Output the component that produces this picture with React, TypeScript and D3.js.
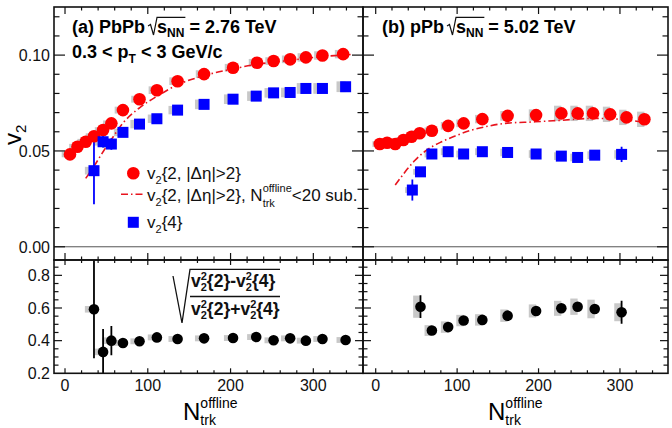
import * as d3 from 'd3'
import { useEffect, useRef } from 'react'

// PbPb 2.76 TeV
const pbX2 = [6, 15, 25, 35, 46, 56, 70, 90, 111, 136, 168, 203, 232, 252, 272, 291, 311, 336]
const pbV22 = [0.0482, 0.0522, 0.0548, 0.0577, 0.0609, 0.0644, 0.0713, 0.077, 0.0817, 0.0864, 0.0901, 0.0934, 0.096, 0.0969, 0.0978, 0.0988, 0.0998, 0.1005]
const pbV22Sys = [0.0015, 0.0015, 0.0015, 0.0015, 0.0015, 0.0015, 0.0018, 0.0018, 0.002, 0.002, 0.002, 0.002, 0.002, 0.002, 0.002, 0.0022, 0.0022, 0.0022]
const pbX4 = [35, 46, 56, 70, 90, 111, 136, 168, 203, 231, 252, 272, 291, 311, 339]
const pbV24 = [0.0397, 0.0548, 0.0536, 0.0597, 0.064, 0.0668, 0.0713, 0.0743, 0.077, 0.0786, 0.0803, 0.0805, 0.0826, 0.0826, 0.0835]
const pbV24Err = [0.0175, 0.003, 0.003, 0, 0, 0, 0, 0, 0, 0, 0, 0, 0, 0, 0]
const pbV24Sys = [0.002, 0.002, 0.002, 0.002, 0.0022, 0.0022, 0.0022, 0.0025, 0.0025, 0.0025, 0.0025, 0.0025, 0.0028, 0.0028, 0.0028]
const pbSubX = [25, 35, 46, 56, 70, 90, 111, 136, 168, 203, 232, 252, 272, 291, 311, 336, 345]
const pbSub = [0.0357, 0.042, 0.0496, 0.056, 0.0645, 0.0725, 0.0785, 0.0845, 0.0893, 0.0928, 0.0952, 0.0963, 0.0973, 0.0983, 0.0993, 0.1, 0.1003]
const pbRatio = [0.592, 0.331, 0.4, 0.386, 0.396, 0.42, 0.41, 0.414, 0.416, 0.422, 0.402, 0.414, 0.4, 0.41, 0.404]
const pbRatioErr = [0.3, 0.14, 0.09, 0, 0, 0, 0, 0, 0, 0, 0, 0, 0, 0, 0]
const pbRatioSys = [0.02, 0.02, 0.02, 0.018, 0.018, 0.018, 0.018, 0.018, 0.018, 0.018, 0.018, 0.018, 0.018, 0.018, 0.018]

// pPb 5.02 TeV
const ppX2 = [5, 14, 24, 34, 44, 54, 69, 89, 108, 131, 162, 197, 228, 248, 267, 288, 308, 330]
const ppV22 = [0.0536, 0.0543, 0.0536, 0.0557, 0.0574, 0.0592, 0.0605, 0.0631, 0.0644, 0.0666, 0.0683, 0.0687, 0.0696, 0.0696, 0.0696, 0.0691, 0.0675, 0.0665]
const ppV22Sys = [0.0015, 0.0015, 0.0015, 0.0015, 0.0015, 0.0015, 0.0018, 0.002, 0.002, 0.0022, 0.0025, 0.003, 0.004, 0.004, 0.004, 0.004, 0.004, 0.004]
const ppX4 = [45, 55, 69, 89, 108, 131, 162, 197, 228, 248, 269, 302]
const ppV24 = [0.0296, 0.0391, 0.0484, 0.0496, 0.0484, 0.0496, 0.0492, 0.0484, 0.0473, 0.0466, 0.0478, 0.0482]
const ppV24Err = [0.0055, 0.0025, 0, 0, 0, 0, 0, 0, 0, 0, 0, 0.004]
const ppV24Sys = [0.0015, 0.0015, 0.0018, 0.0018, 0.0018, 0.0018, 0.002, 0.002, 0.002, 0.002, 0.002, 0.0022]
const ppSubX = [24, 36, 48, 60, 81, 97, 118, 139, 159, 196, 228, 267, 300, 325]
const ppSub = [0.0322, 0.039, 0.045, 0.0496, 0.0548, 0.0577, 0.0609, 0.063, 0.0644, 0.0652, 0.066, 0.067, 0.0665, 0.0652]
const ppRX = [55, 69, 89, 108, 131, 162, 197, 228, 248, 269, 302]
const ppRatio = [0.608, 0.462, 0.483, 0.523, 0.527, 0.553, 0.582, 0.598, 0.608, 0.594, 0.574]
const ppRatioErr = [0.07, 0, 0, 0, 0, 0, 0, 0, 0, 0, 0.07]
const ppRatioSys = [0.068, 0.033, 0.035, 0.035, 0.035, 0.038, 0.04, 0.046, 0.05, 0.057, 0.055]

const xTickLabels = ['0', '100', '200', '300']
const yTopLabels = ['0.00', '0.05', '0.10']
const yBotLabels = ['0.2', '0.4', '0.6', '0.8']

type Run = { t: string; s: number; dy?: number; keep?: boolean }

const rich = (g: any, x: number, y: number, runs: Run[], weight = 'normal') => {
  let cx = x
  const ends: number[] = []
  runs.forEach((r) => {
    const el = g
      .append('text')
      .attr('x', cx)
      .attr('y', y + (r.dy || 0))
      .attr('font-size', r.s)
      .attr('font-weight', weight)
      .style('white-space', 'pre')
      .text(r.t)
    const w = (el.node() as SVGTextElement).getComputedTextLength()
    ends.push(cx + w)
    if (!r.keep) cx += w
  })
  return { end: cx, ends }
}

const App = () => {
  const ref = useRef<SVGSVGElement>(null)

  useEffect(() => {
    const svg = d3.select(ref.current)
    svg.selectAll('*').remove()
    svg.attr('font-family', '"Liberation Sans", Arial, sans-serif')

    const cols = [
      { x0: 54, x1: 363, dom: [-13.3, 360] },
      { x0: 363, x1: 668, dom: [-15.6, 359] },
    ]
    const xs = cols.map((c) => d3.scaleLinear().domain(c.dom).range([c.x0, c.x1]))
    const yTop = d3.scaleLinear().domain([-0.0069, 0.1251]).range([260, 7])
    const yBot = d3.scaleLinear().domain([0.2, 0.894]).range([373.3, 260])

    const xTicks = d3.range(0, 19).map((i) => i * 20)
    const yTopTicks = d3.range(0, 13).map((i) => i / 100)
    const yBotTicks = d3.range(4, 18).map((i) => i / 20)
    const grey = '#c8c8c8'

    const panel = (i: number, y: any, id: string) => {
      const x = xs[i]
      const g = svg.append('g')
      g.append('clipPath')
        .attr('id', id)
        .append('rect')
        .attr('x', x.range()[0])
        .attr('y', y.range()[1])
        .attr('width', x.range()[1] - x.range()[0])
        .attr('height', y.range()[0] - y.range()[1])
      const body = g.append('g').attr('clip-path', `url(#${id})`)
      return { x, y, g, body }
    }

    const frame = (p: any, yt: number[], isMajor: (v: number) => boolean, xl: number[], yl: number[]) => {
      const { x, y, g } = p
      const [xa, xb] = x.range()
      const [yb, ya] = y.range()
      const ax = g.append('g').attr('stroke', '#111').attr('stroke-width', 1.2)
      xTicks
        .filter((v) => x(v) > xa + 0.5 && x(v) < xb - 0.5)
        .forEach((v) => {
          const L = v % 100 === 0 ? xl[0] : xl[1]
          ax.append('line').attr('x1', x(v)).attr('x2', x(v)).attr('y1', yb).attr('y2', yb - L)
          ax.append('line').attr('x1', x(v)).attr('x2', x(v)).attr('y1', ya).attr('y2', ya + L)
        })
      yt.filter((v) => y(v) < yb - 0.5 && y(v) > ya + 0.5).forEach((v) => {
        const L = isMajor(v) ? yl[0] : yl[1]
        ax.append('line').attr('x1', xa).attr('x2', xa + L).attr('y1', y(v)).attr('y2', y(v))
        ax.append('line').attr('x1', xb).attr('x2', xb - L).attr('y1', y(v)).attr('y2', y(v))
      })
      g.append('rect')
        .attr('x', xa)
        .attr('y', ya)
        .attr('width', xb - xa)
        .attr('height', yb - ya)
        .attr('fill', 'none')
        .attr('stroke', '#111')
        .attr('stroke-width', 1.6)
    }

    const sys = (p: any, xv: number[], yv: number[], sv: number[], hw: number) => {
      p.body
        .selectAll(null)
        .data(xv)
        .enter()
        .append('rect')
        .attr('x', (d: number) => p.x(d - hw))
        .attr('width', p.x(hw) - p.x(0))
        .attr('y', (d: number, i: number) => p.y(yv[i] + sv[i]))
        .attr('height', (d: number, i: number) => p.y(yv[i] - sv[i]) - p.y(yv[i] + sv[i]))
        .attr('fill', grey)
    }

    const errs = (p: any, xv: number[], yv: number[], ev: number[], color: string) => {
      p.body
        .selectAll(null)
        .data(xv.filter((d, i) => ev[i] > 0).map((d) => xv.indexOf(d)))
        .enter()
        .append('line')
        .attr('x1', (i: number) => p.x(xv[i]))
        .attr('x2', (i: number) => p.x(xv[i]))
        .attr('y1', (i: number) => p.y(yv[i] + ev[i]))
        .attr('y2', (i: number) => p.y(yv[i] - ev[i]))
        .attr('stroke', color)
        .attr('stroke-width', 1.8)
    }

    const circles = (p: any, xv: number[], yv: number[], r: number, color: string) => {
      p.body
        .selectAll(null)
        .data(xv)
        .enter()
        .append('circle')
        .attr('cx', (d: number) => p.x(d))
        .attr('cy', (d: number, i: number) => p.y(yv[i]))
        .attr('r', r)
        .attr('fill', color)
    }

    const squares = (p: any, xv: number[], yv: number[], h: number, color: string) => {
      p.body
        .selectAll(null)
        .data(xv)
        .enter()
        .append('rect')
        .attr('x', (d: number) => p.x(d) - h)
        .attr('y', (d: number, i: number) => p.y(yv[i]) - h)
        .attr('width', 2 * h)
        .attr('height', 2 * h)
        .attr('fill', color)
    }

    const dashLine = (p: any, xv: number[], yv: number[]) => {
      const line = d3
        .line<number>()
        .x((d) => p.x(d))
        .y((d, i) => p.y(yv[i]))
        .curve(d3.curveMonotoneX)
      p.body
        .append('path')
        .datum(xv)
        .attr('d', line)
        .attr('fill', 'none')
        .attr('stroke', '#e8141e')
        .attr('stroke-width', 1.6)
        .attr('stroke-dasharray', '7,3,1.5,3')
    }

    const zeroLine = (p: any) => {
      p.body
        .append('line')
        .attr('x1', p.x.range()[0])
        .attr('x2', p.x.range()[1])
        .attr('y1', p.y(0))
        .attr('y2', p.y(0))
        .attr('stroke', '#555')
        .attr('stroke-width', 1)
    }

    const RC = 6.3
    const SQ = 5.5
    const RB = 5.3
    const topMajor = (v: number) => Math.round(v * 100) % 5 === 0
    const botMajor = (v: number) => Math.round(v * 20) % 4 === 0

    // top-left: PbPb
    const tl = panel(0, yTop, 'clipTL')
    zeroLine(tl)
    sys(tl, pbX2, pbV22, pbV22Sys, 10)
    sys(tl, pbX4, pbV24, pbV24Sys, 11)
    dashLine(tl, pbSubX, pbSub)
    errs(tl, pbX4, pbV24, pbV24Err, '#0000ff')
    circles(tl, pbX2, pbV22, RC, '#ff0000')
    squares(tl, pbX4, pbV24, SQ, '#0000ff')
    frame(tl, yTopTicks, topMajor, [7, 3.5], [11, 5.5])

    // top-right: pPb
    const tr = panel(1, yTop, 'clipTR')
    zeroLine(tr)
    sys(tr, ppX2, ppV22, ppV22Sys, 9)
    sys(tr, ppX4, ppV24, ppV24Sys, 9)
    dashLine(tr, ppSubX, ppSub)
    errs(tr, ppX4, ppV24, ppV24Err, '#0000ff')
    circles(tr, ppX2, ppV22, RC, '#ff0000')
    squares(tr, ppX4, ppV24, SQ, '#0000ff')
    frame(tr, yTopTicks, topMajor, [7, 3.5], [11, 5.5])

    // bottom-left ratio
    const bl = panel(0, yBot, 'clipBL')
    sys(bl, pbX4, pbRatio, pbRatioSys, 11)
    errs(bl, pbX4, pbRatio, pbRatioErr, '#000')
    circles(bl, pbX4, pbRatio, RB, '#000')
    frame(bl, yBotTicks, botMajor, [5, 3], [8, 4.5])

    // bottom-right ratio
    const br = panel(1, yBot, 'clipBR')
    sys(br, ppRX, ppRatio, ppRatioSys, 9)
    errs(br, ppRX, ppRatio, ppRatioErr, '#000')
    circles(br, ppRX, ppRatio, RB, '#000')
    frame(br, yBotTicks, botMajor, [5, 3], [8, 4.5])

    // tick labels
    const lab = svg.append('g').attr('font-size', 16).attr('fill', '#111')
    yTopLabels.forEach((t) => {
      lab.append('text').attr('x', 50).attr('y', yTop(+t)).attr('dy', '0.36em').attr('text-anchor', 'end').text(t)
    })
    yBotLabels.forEach((t) => {
      lab.append('text').attr('x', 50).attr('y', yBot(+t)).attr('dy', '0.36em').attr('text-anchor', 'end').text(t)
    })
    xs.forEach((x) => {
      xTickLabels.forEach((t) => {
        lab.append('text').attr('x', x(+t)).attr('y', 391).attr('text-anchor', 'middle').text(t)
      })
    })

    // axis titles
    const yt = svg.append('g').attr('transform', 'translate(21,145) rotate(-90)')
    rich(yt, 0, 0, [
      { t: 'v', s: 24 },
      { t: '2', s: 15, dy: 5 },
    ])
    xs.forEach((x, i) => {
      rich(svg, i === 0 ? 183 : 488, 420, [
        { t: 'N', s: 24 },
        { t: 'trk', s: 14, dy: 5, keep: true },
        { t: 'offline', s: 14, dy: -12 },
      ])
    })

    // panel titles
    const title = (x0: number, pre: string, post: string) => {
      const a = rich(svg, x0, 33, [{ t: pre, s: 18 }], 'bold')
      const rx = a.end + 3
      const b = rich(svg, rx + 9, 33, [
        { t: 's', s: 18 },
        { t: 'NN', s: 12, dy: 4 },
        { t: post, s: 18 },
      ], 'bold')
      svg
        .append('path')
        .attr('d', `M${rx},26 L${rx + 2.5},24.5 L${rx + 5.5},35 L${rx + 9},17.3 L${b.ends[1] + 1},17.3`)
        .attr('fill', 'none')
        .attr('stroke', '#111')
        .attr('stroke-width', 1.2)
    }
    title(72, '(a) PbPb', ' = 2.76 TeV')
    title(382, '(b) pPb', ' = 5.02 TeV')
    rich(svg, 72, 58, [
      { t: '0.3 < p', s: 18 },
      { t: 'T', s: 12, dy: 5 },
      { t: ' < 3 GeV/c', s: 18 },
    ], 'bold')

    // legend
    const lg = svg.append('g').attr('fill', '#111')
    lg.append('circle').attr('cx', 133.3).attr('cy', 173.3).attr('r', RC).attr('fill', '#ff0000')
    rich(lg, 147, 179, [
      { t: 'v', s: 17 },
      { t: '2', s: 11, dy: 5 },
      { t: '{2, |Δη|>2}', s: 17 },
    ])
    lg.append('line')
      .attr('x1', 121)
      .attr('x2', 144)
      .attr('y1', 194.3)
      .attr('y2', 194.3)
      .attr('stroke', '#e8141e')
      .attr('stroke-width', 1.6)
      .attr('stroke-dasharray', '7,3,1.5,3')
    rich(lg, 147, 201, [
      { t: 'v', s: 17 },
      { t: '2', s: 11, dy: 5 },
      { t: '{2, |Δη|>2}, N', s: 17 },
      { t: 'trk', s: 11, dy: 6, keep: true },
      { t: 'offline', s: 11, dy: -9 },
      { t: '<20 sub.', s: 17 },
    ])
    lg.append('rect').attr('x', 133.3 - SQ).attr('y', 222.3 - SQ).attr('width', 2 * SQ).attr('height', 2 * SQ).attr('fill', '#0000ff')
    rich(lg, 147, 228, [
      { t: 'v', s: 17 },
      { t: '2', s: 11, dy: 5 },
      { t: '{4}', s: 17 },
    ])

    // ratio formula
    const fm = svg.append('g').attr('fill', '#111')
    const frac = (y: number, op: string) =>
      rich(fm, 191, y, [
        { t: 'v', s: 17.5 },
        { t: '2', s: 11, dy: -7, keep: true },
        { t: '2', s: 11, dy: 4 },
        { t: `{2}${op}v`, s: 17.5 },
        { t: '2', s: 11, dy: -7, keep: true },
        { t: '2', s: 11, dy: 4 },
        { t: '{4}', s: 17.5 },
      ], 'bold')
    frac(287, '-')
    frac(315, '+')
    fm.append('line').attr('x1', 190).attr('x2', 280).attr('y1', 296.5).attr('y2', 296.5).attr('stroke', '#111').attr('stroke-width', 1.3)
    fm.append('path')
      .attr('d', 'M173,276 L182,323 L190,269.3 L280,269.3')
      .attr('fill', 'none')
      .attr('stroke', '#111')
      .attr('stroke-width', 1.3)
  }, [])

  return (
    <svg
      ref={ref}
      width={672}
      height={428}
      style={{ position: 'absolute', left: 0, top: 0, background: '#fff' }}
    />
  )
}

export default App
